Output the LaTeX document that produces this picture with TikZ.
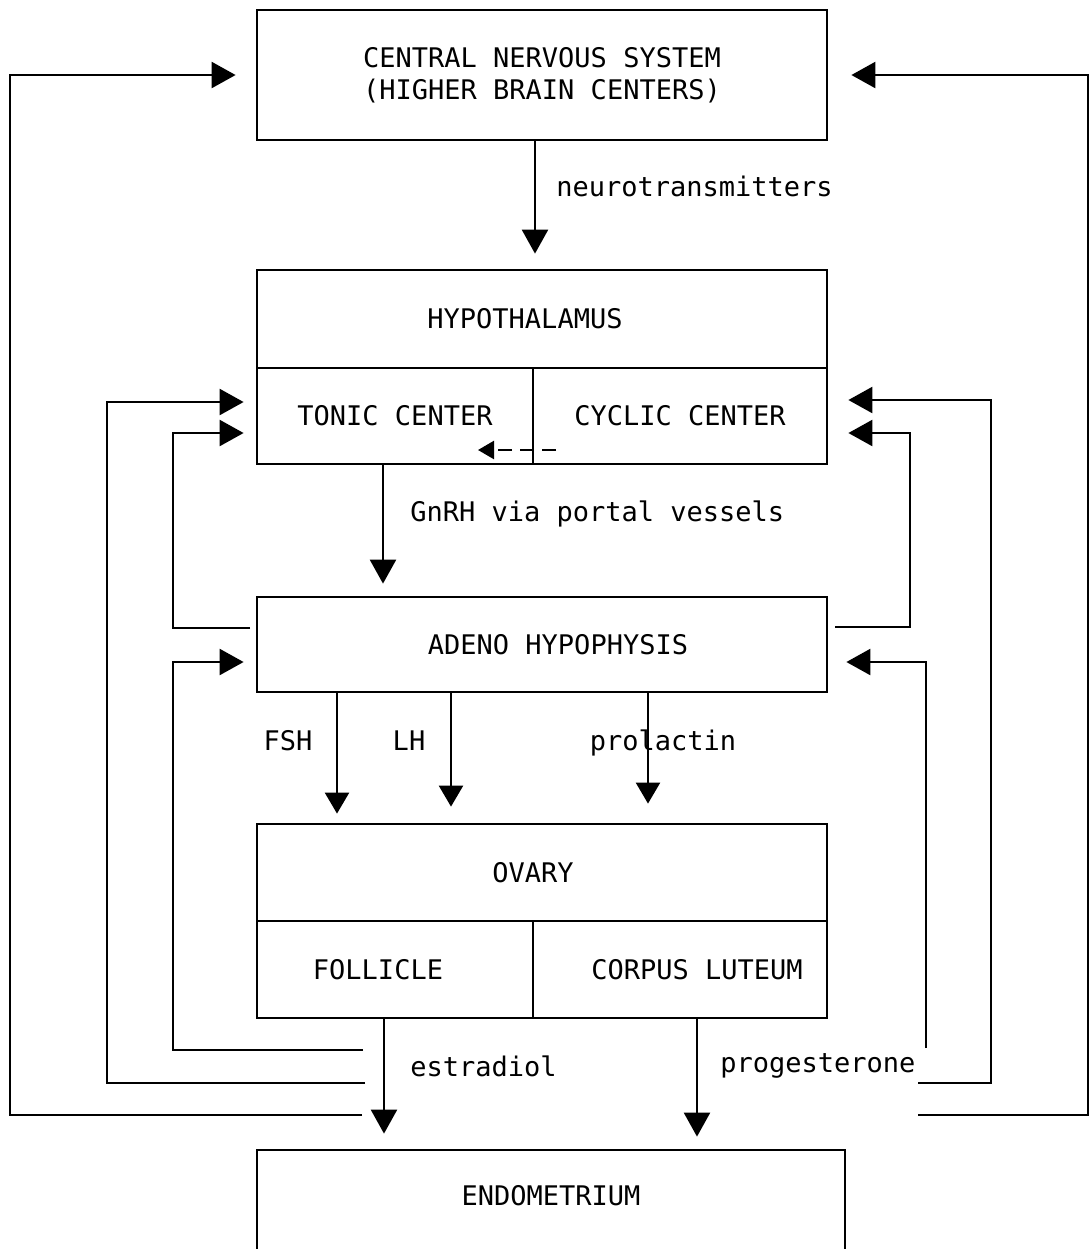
\documentclass[tikz,border=0pt]{standalone}
\usepackage{fontspec}
\setmainfont{DejaVu Sans Mono}
\usetikzlibrary{arrows.meta}
\begin{document}
\begin{tikzpicture}[x=0.5pt,y=-0.5pt,
  every node/.style={font=\fontsize{13.5}{16}\selectfont, inner sep=0pt},
  box/.style={draw, line width=1.4pt, rectangle},
  conn/.style={line width=1.2pt},
  arr/.style={conn, -{Triangle[length=12pt,width=13pt]}},
  darr/.style={conn, -{Triangle[length=10.5pt,width=12pt]}},
  lbl/.style={anchor=west}]
\useasboundingbox (0,0) rectangle (1091,1249);
\clip (0,0) rectangle (1091,1249);

% boxes
\node[box, minimum width=285pt, minimum height=65pt, align=center] (cns) at (542,75)
  {CENTRAL NERVOUS SYSTEM\\[0pt](HIGHER BRAIN CENTERS)};
\node[box, minimum width=285pt, minimum height=49pt,
  label={[xshift=-8.5pt]center:HYPOTHALAMUS}] (hyp) at (542,319) {};
\node[box, minimum width=138pt, minimum height=48pt] (tonic) at (395,416) {TONIC CENTER};
\node[box, minimum width=147pt, minimum height=48pt] (cyclic) at (680,416) {CYCLIC CENTER};
\node[box, minimum width=285pt, minimum height=47.5pt,
  label={[xshift=8pt]center:ADENO HYPOPHYSIS}] (adeno) at (542,644.5) {};
\node[box, minimum width=285pt, minimum height=48.5pt,
  label={[xshift=-4.5pt]center:OVARY}] (ovary) at (542,872.5) {};
\node[box, minimum width=138pt, minimum height=48.5pt,
  label={[xshift=-8.5pt]center:FOLLICLE}] (foll) at (395,969.5) {};
\node[box, minimum width=147pt, minimum height=48.5pt,
  label={[xshift=8.5pt]center:CORPUS LUTEUM}] (corpus) at (680,969.5) {};
\node[box, minimum width=294pt, minimum height=60pt,
  label={[yshift=7pt]center:ENDOMETRIUM}] (endo) at (551,1210) {};

% main downward arrows
\draw[arr, shorten >=7.5pt] ([xshift=-3.5pt]cns.south) -- ([xshift=-3.5pt]hyp.north);
\node[lbl] (lneuro) at (556,186) {neurotransmitters};

\draw[arr, shorten >=6pt] ([xshift=-6pt]tonic.south) -- ([xshift=-79.5pt]adeno.north);
\node[lbl] (lgnrh) at (410,514) {GnRH via portal vessels};

\draw[darr, shorten >=4.5pt] ([xshift=-102.5pt]adeno.south) -- ([xshift=-102.5pt]ovary.north);
\draw[darr, shorten >=8pt] ([xshift=-45.5pt]adeno.south) -- ([xshift=-45.5pt]ovary.north);
\draw[darr, shorten >=9.5pt] ([xshift=53pt]adeno.south) -- ([xshift=53pt]ovary.north);
\node (lfsh) at (288,741) {FSH};
\node (llh) at (409,741) {LH};
\node (lprl) at (663,743) {prolactin};

\draw[arr, shorten >=7.5pt] ([xshift=-5.5pt]foll.south) -- ([xshift=-83.5pt]endo.north);
\draw[arr, shorten >=6pt] ([xshift=8.5pt]corpus.south) -- ([xshift=73pt]endo.north);
\node[lbl] (lestr) at (410,1066) {estradiol};
\node[lbl] (lprog) at (720,1066) {progesterone};

% dashed arrow cyclic -> tonic
\coordinate (d1) at (556,450);
\coordinate (d2) at (478,450);
\draw[conn, dashed, dash pattern=on 7pt off 4pt, -{Triangle[length=8pt,width=9pt]}] (d1) -- (d2);

% left feedback loops
\coordinate (s1) at (362,1115);
\coordinate (s2) at (365,1083);
\coordinate (s3) at (250,628);
\coordinate (s4) at (363,1050);
\draw[arr, shorten >=10pt] (s1) -- (10,1115) -- (10,75) -- (cns.west);
\draw[arr, shorten >=6pt] (s2) -- (107,1083) -- (107,402) -- ([yshift=7pt]tonic.west);
\draw[arr, shorten >=6pt] (s3) -- (173,628) -- (173,433) -- ([yshift=-8.5pt]tonic.west);
\draw[arr, shorten >=6pt] (s4) -- (173,1050) -- (173,662) -- ([yshift=-8.75pt]adeno.west);

% right feedback loops
\coordinate (r1) at (918,1115);
\coordinate (r2) at (918,1083);
\coordinate (r3) at (835,627);
\coordinate (r4) at (926,1048);
\draw[arr, shorten >=11.5pt] (r1) -- (1088,1115) -- (1088,75) -- (cns.east);
\draw[arr, shorten >=10pt] (r2) -- (991,1083) -- (991,400) -- ([yshift=8pt]cyclic.east);
\draw[arr, shorten >=10pt] (r3) -- (910,627) -- (910,433) -- ([yshift=-8.5pt]cyclic.east);
\draw[arr, shorten >=9pt] (r4) -- (926,662) -- ([yshift=-8.75pt]adeno.east);
\end{tikzpicture}
\end{document}
